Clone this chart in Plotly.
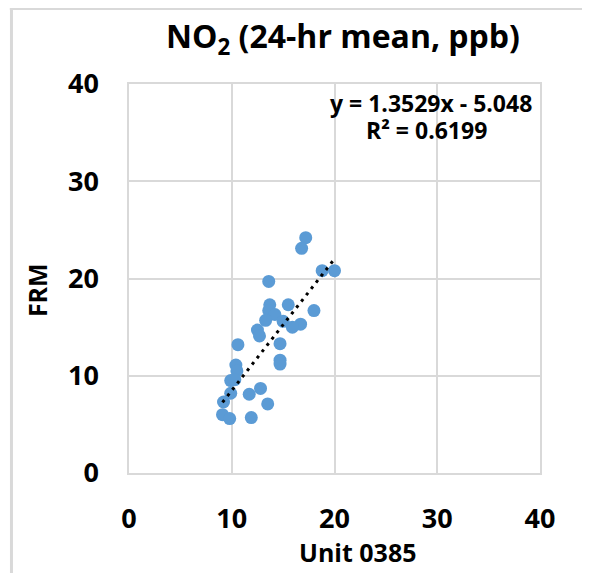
import plotly.graph_objects as go

# Unit 0385 vs FRM, NO2 24-hr means (ppb)
unit_0385 = [17.2, 16.8, 18.8, 20.0, 13.6, 13.7, 15.5, 13.6, 14.2, 18.0, 13.3,
             15.0, 16.7, 15.9, 12.5, 12.7, 10.6, 14.7, 14.7, 14.7, 10.4, 10.5,
             9.9, 10.3, 9.9, 9.2, 11.7, 12.8, 13.5, 9.1, 9.8, 11.9]
frm = [24.2, 23.1, 20.8, 20.8, 19.7, 17.3, 17.3, 16.7, 16.3, 16.7, 15.7,
       15.6, 15.3, 15.0, 14.7, 14.1, 13.2, 13.3, 11.6, 11.2, 11.1, 10.5,
       9.5, 9.6, 8.2, 7.3, 8.1, 8.7, 7.1, 6.0, 5.6, 5.7]

slope = 1.3529
intercept = -5.048
r_squared = 0.6199

FONT = "Open Sans"
GRID = "#d9d9d9"

fit_x = [min(unit_0385), max(unit_0385)]
fit_y = [slope * v + intercept for v in fit_x]

fig = go.Figure()
fig.add_trace(go.Scatter(
    x=unit_0385, y=frm, mode="markers",
    marker=dict(color="#5b9bd5", size=13, line=dict(width=0)),
    showlegend=False))
# trendline sits on top of the markers, like in Excel
fig.add_trace(go.Scatter(
    x=fit_x, y=fit_y, mode="lines",
    line=dict(color="black", width=3, dash="3px,5px"),
    hoverinfo="skip", showlegend=False))

axis_common = dict(
    range=[0, 40], dtick=10, showgrid=True, gridcolor=GRID, gridwidth=1.5,
    zeroline=False, showline=True, linecolor=GRID, linewidth=1.5, mirror=True,
    ticks="outside", tickcolor="rgba(0,0,0,0)",
    tickfont=dict(family=FONT, size=27, color="black", weight="bold"),
    fixedrange=True,
)
fig.update_xaxes(**axis_common, ticklen=21)
fig.update_yaxes(**axis_common, ticklen=23)

# the page adds an 8px body margin, so the figure is 8px smaller than the window
fig.update_layout(
    width=582, height=565,
    margin=dict(l=121, r=50, t=76, b=100),
    paper_bgcolor="white", plot_bgcolor="white",
    font=dict(family=FONT, color="black"),
    annotations=[
        dict(text="<b>NO<sub>2</sub> (24-hr mean, ppb)</b>", xref="paper", yref="paper",
             x=0.52, y=1.118, xanchor="center", yanchor="middle", showarrow=False,
             font=dict(size=32)),
        dict(text=f"<b>y = {slope}x - {abs(intercept):.3f}</b>", xref="paper", yref="paper",
             x=0.985, y=0.95, xanchor="right", yanchor="middle", showarrow=False,
             font=dict(size=23)),
        dict(text=f"<b>R² = {r_squared}</b>", xref="paper", yref="paper",
             x=0.725, y=0.882, xanchor="center", yanchor="middle", showarrow=False,
             font=dict(size=23)),
        dict(text="<b>FRM</b>", xref="paper", yref="paper",
             x=-0.224, y=0.47, xanchor="center", yanchor="middle", showarrow=False,
             textangle=-90, font=dict(size=25)),
        dict(text="<b>Unit 0385</b>", xref="paper", yref="paper",
             x=0.555, y=-0.203, xanchor="center", yanchor="middle", showarrow=False,
             font=dict(size=25)),
    ],
    shapes=[
        dict(type="line", xref="paper", yref="paper", x0=-0.286, x1=-0.286,
             y0=-0.3, y1=1.195, line=dict(color=GRID, width=3)),
        dict(type="line", xref="paper", yref="paper", x0=-0.29, x1=1.112,
             y0=1.193, y1=1.193, line=dict(color=GRID, width=2)),
        dict(type="line", xref="paper", yref="paper", x0=1.112, x1=1.112,
             y0=-0.3, y1=1.195, line=dict(color=GRID, width=2)),
    ],
)

fig.write_html("out.html")
